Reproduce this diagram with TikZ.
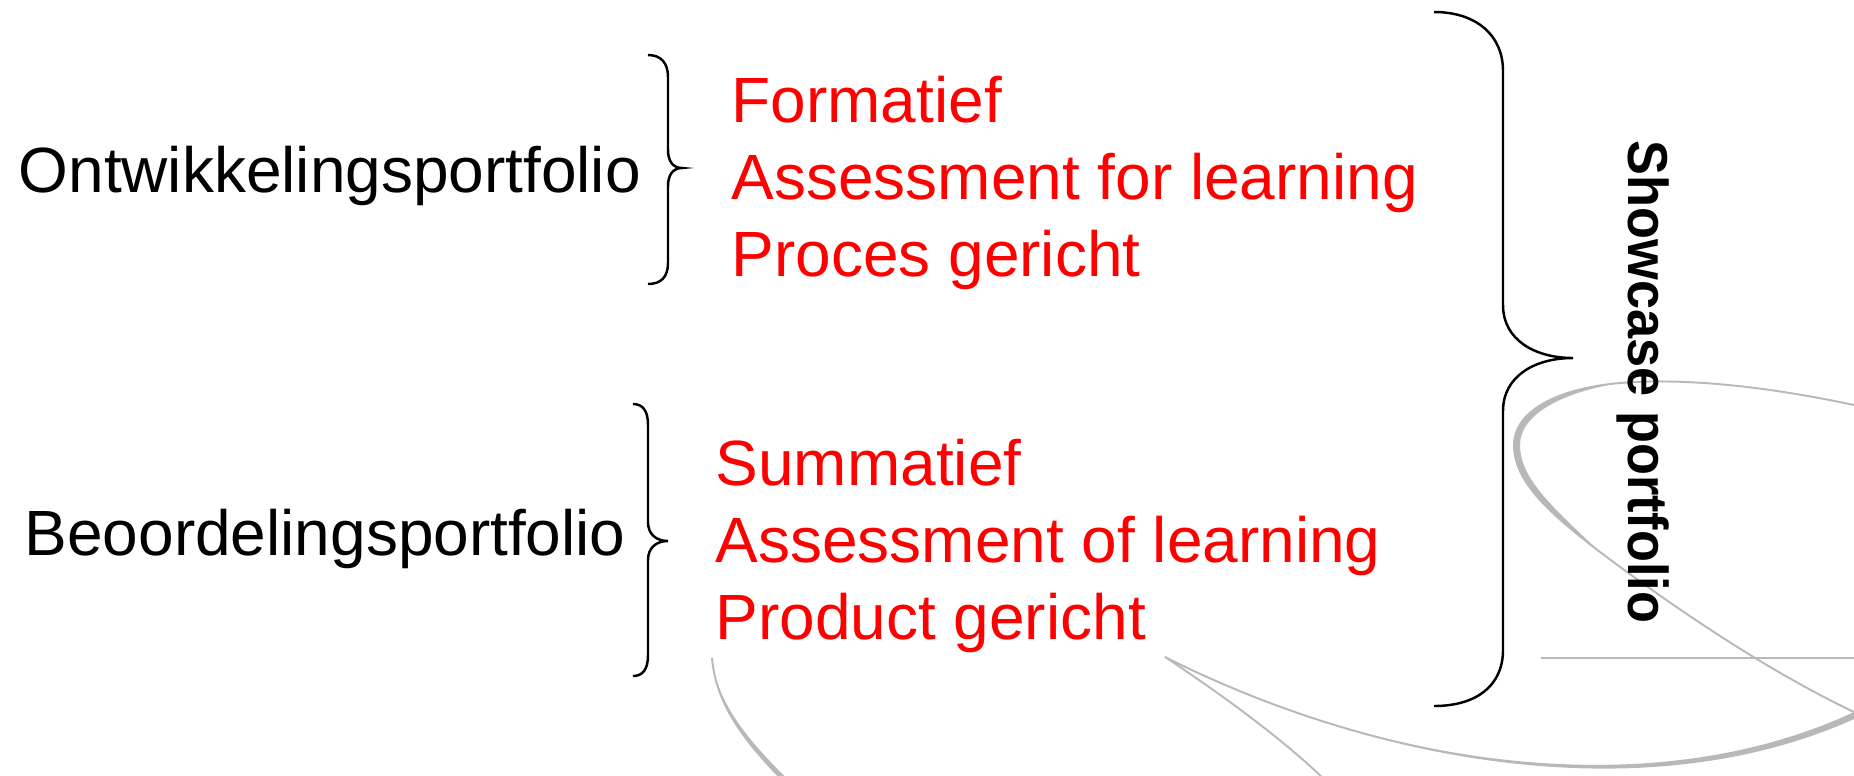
\documentclass[tikz,border=0pt]{standalone}
\usepackage{fontspec}
\setmainfont{Liberation Sans}
\newfontfamily\narrowfont[FakeStretch=0.93]{Liberation Sans}
\usepackage{xcolor}
\usepackage{tikz}
\usetikzlibrary{calc}
\definecolor{swoosh}{RGB}{184,184,184}

\begin{document}
\begin{tikzpicture}[x=0.1mm,y=-0.1mm,
    label/.style={anchor=base west,inner sep=0pt,font=\fontsize{18.2}{22}\selectfont},
    redlabel/.style={label,text=red},
    accolade/.style={black,line width=0.7pt},
    thin swoosh/.style={swoosh,line width=0.55pt}]
\useasboundingbox (0,0) rectangle (1854,775);

%% grey swooshes in the background
\begin{scope}
\clip (0,0) rectangle (1854,775);
\draw[thin swoosh] (712,658) .. controls (716,705) and (745,745) .. (800,797);
\fill[swoosh] (712,658) .. controls (716,705) and (745,745) .. (800,797)
    -- (803,794) .. controls (748,742) and (717,704) .. (712,658) -- cycle;
\draw[thin swoosh] (1165,657) .. controls (1230,700) and (1290,745) .. (1330,785);
\draw[thin swoosh] (1165,657) .. controls (1380,765) and (1650,810) .. (1854,718);
\fill[swoosh] (1165,657) .. controls (1380,765) and (1650,810) .. (1854,718)
    -- (1854,712) .. controls (1650,807) and (1380,765) .. (1165,657) -- cycle;
\draw[thin swoosh] (1854,405) .. controls (1760,385) and (1680,378) .. (1620,383)
    .. controls (1560,388) and (1514,410) .. (1514,445)
    .. controls (1514,480) and (1545,510) .. (1600,552)
    .. controls (1680,612) and (1770,672) .. (1854,712);
\fill[swoosh] (1620,383) .. controls (1560,388) and (1514,410) .. (1514,445)
    .. controls (1514,480) and (1545,510) .. (1600,552)
    .. controls (1551,506) and (1520,478) .. (1520,445)
    .. controls (1520,414) and (1563,392) .. (1620,383) -- cycle;
\draw[thin swoosh] (1541,658) -- (1854,658);
\end{scope}

%% left labels
\node[label] (ontw) at (18,192) {Ontwikkelingsportfolio};
\node[label] (beoo) at (24,555) {Beoordelingsportfolio};

%% red lists
\foreach \txt [count=\i] in {Formatief, Assessment for learning, Proces gericht}
    \node[redlabel] (form\i) at (731,45+77*\i) {\txt};
\foreach \txt [count=\i] in {Summatief, Assessment of learning, Product gericht}
    \node[redlabel] (summ\i) at (715,408+77*\i) {\txt};

%% braces
\draw[accolade] (648,55) .. controls (661,55) and (668,63) .. (668,77) -- (668,150)
    .. controls (668,161) and (673,168) .. (682,168)
    .. controls (673,168) and (668,175) .. (668,186) -- (668,263)
    .. controls (668,277) and (661,284) .. (648,284);
\draw[accolade] (633,404) .. controls (643,404) and (648,411) .. (648,425) -- (648,522)
    .. controls (648,534) and (656,541) .. (668,541)
    .. controls (656,541) and (648,548) .. (648,560) -- (648,655)
    .. controls (648,669) and (643,676) .. (633,676);
\draw[accolade] (1434,12) .. controls (1476,12) and (1503,35) .. (1503,71) -- (1503,305)
    .. controls (1503,340) and (1535,358) .. (1573,358)
    .. controls (1535,358) and (1503,376) .. (1503,411) -- (1503,650)
    .. controls (1503,686) and (1476,706) .. (1434,706);

\node[rotate=-90,anchor=base,inner sep=0pt,font=\narrowfont\bfseries\fontsize{16}{19}\selectfont] (show) at (1628,382) {Showcase portfolio};
\end{tikzpicture}
\end{document}
